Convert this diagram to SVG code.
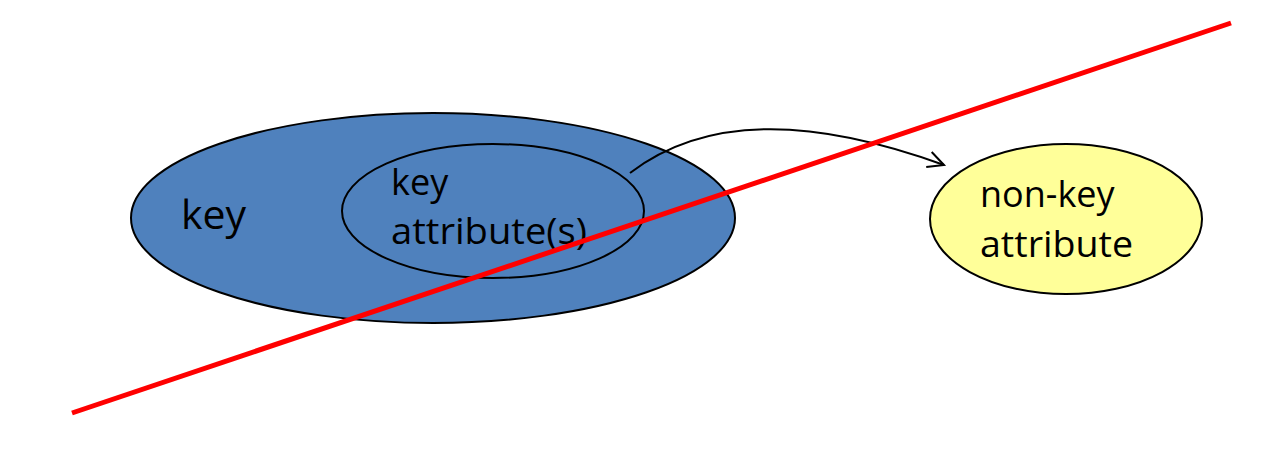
<svg xmlns="http://www.w3.org/2000/svg" width="1274" height="450" viewBox="0 0 1274 450">
<defs>
<style>
.lbl{font-family:"Open Sans","Noto Sans",sans-serif;fill:#000}
.shape{stroke:#000;stroke-width:2}
</style>
<marker id="arr" markerWidth="24" markerHeight="24" refX="22" refY="12" orient="auto" markerUnits="userSpaceOnUse">
<path d="M6,4 L22,12 L6,20" fill="none" stroke="#000" stroke-width="2"/>
</marker>
</defs>
<rect width="1274" height="450" fill="#fff"/>
<g id="key">
<ellipse class="shape" cx="433" cy="218" rx="302" ry="105" fill="#4f81bd"/>
<text class="lbl" x="181" y="229" font-size="41">key</text>
</g>
<g id="key-attributes">
<ellipse class="shape" cx="493" cy="211" rx="151" ry="67" fill="#4f81bd"/>
<text class="lbl" x="391" y="195" font-size="36">key</text>
<text class="lbl" x="391" y="244" font-size="36" textLength="196" lengthAdjust="spacingAndGlyphs">attribute(s)</text>
</g>
<g id="non-key">
<ellipse class="shape" cx="1066" cy="219" rx="136" ry="75" fill="#ffff99"/>
<text class="lbl" x="980" y="207" font-size="36">non-key</text>
<text class="lbl" x="980" y="257" font-size="36" textLength="153" lengthAdjust="spacingAndGlyphs">attribute</text>
</g>
<g id="connectors">
<path d="M630,173 C710,112 820,120 944,165" fill="none" stroke="#000" stroke-width="2" marker-end="url(#arr)"/>
<line x1="72" y1="413" x2="1231" y2="23" stroke="#ff0000" stroke-width="5"/>
</g>
</svg>
